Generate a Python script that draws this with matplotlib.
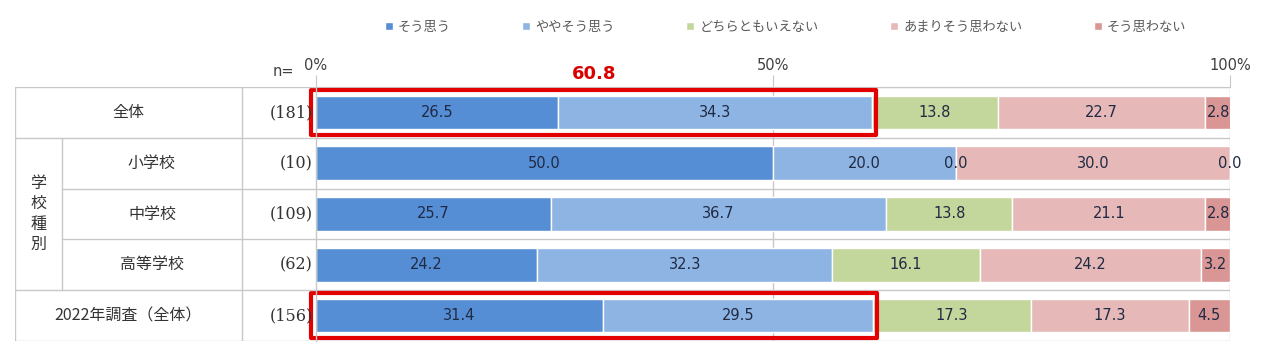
import numpy as np
import matplotlib.pyplot as plt
from matplotlib.patches import Rectangle

plt.rcParams['font.family'] = ['Noto Sans CJK JP', 'DejaVu Sans']

# Survey data (percent), one row per group
groups = ['全体', '小学校', '中学校', '高等学校', '2022年調査（全体）']
n_counts = ['(181)', '(10)', '(109)', '(62)', '(156)']
answers = ['そう思う', 'ややそう思う', 'どちらともいえない', 'あまりそう思わない', 'そう思わない']
sou_omou = [26.5, 50.0, 25.7, 24.2, 31.4]
yaya = [34.3, 20.0, 36.7, 32.3, 29.5]
dochira = [13.8, 0.0, 13.8, 16.1, 17.3]
amari = [22.7, 30.0, 21.1, 24.2, 17.3]
omowanai = [2.8, 0.0, 2.8, 3.2, 4.5]
colors = ['#558ED5', '#8EB4E3', '#C3D69B', '#E6B9B8', '#D99694']
boxed_rows = [0, 4]

W, H = 1265, 347
fig = plt.figure(figsize=(W / 100, H / 100), dpi=100)

x0, x1, ytop, ybot = 316, 1230, 87, 341
ax = fig.add_axes([x0 / W, 1 - ybot / H, (x1 - x0) / W, (ybot - ytop) / H])
tab = fig.add_axes([15 / W, 1 - ybot / H, (x0 - 15) / W, (ybot - ytop) / H])

nrows = len(groups)
ypos = np.arange(nrows)
series = [sou_omou, yaya, dochira, amari, omowanai]
grid_c = '#C8C8C8'

# stacked bars
left = np.zeros(nrows)
handles = []
for vals, col, name in zip(series, colors, answers):
    vals = np.array(vals)
    b = ax.barh(ypos, vals, left=left, height=0.66, color=col,
                edgecolor='white', linewidth=1, label=name, zorder=3)
    handles.append(b)
    for y, v, l in zip(ypos, vals, left):
        ax.text(l + v / 2, y, f'{v:.1f}', ha='center', va='center',
                fontsize=10.5, color='#1f2a44', family='DejaVu Sans', zorder=5)
    left += vals

ax.set_xlim(0, 100)
ax.set_ylim(nrows - 0.5, -0.5)
ax.set_yticks([])
for s in ['left', 'right', 'bottom']:
    ax.spines[s].set_visible(False)
ax.spines['top'].set_color(grid_c)
ax.xaxis.tick_top()
ax.set_xticks([0, 50, 100])
ax.set_xticklabels(['0%', '50%', '100%'], family='DejaVu Sans', fontsize=10.5,
                   color='#404040')
ax.tick_params(axis='x', direction='out', length=9, color=grid_c, pad=1)
for xv in [50, 100]:
    ax.axvline(xv, color=grid_c, lw=1, zorder=1)
for yb in np.arange(nrows + 1) - 0.5:
    ax.axhline(yb, color=grid_c, lw=1, zorder=1)

# red boxes around the agree share
for r in boxed_rows:
    tot = sou_omou[r] + yaya[r]
    ax.add_patch(Rectangle((-0.5, r - 0.45), tot + 1.0, 0.9, fill=False,
                           edgecolor='#E30000', lw=3, zorder=6, clip_on=False,
                           joinstyle='round'))
top_sum = sou_omou[0] + yaya[0]
ax.text(top_sum / 2, -0.75, f'{top_sum:.1f}', ha='center', va='center',
        fontsize=13, fontweight='bold', color='#D90000', family='DejaVu Sans')

# legend
leg = fig.legend(handles=handles, labels=answers, loc='center left',
                 bbox_to_anchor=(373 / W, 1 - 27 / H), ncol=5, frameon=False,
                 handlelength=0.6, handleheight=0.6, handletextpad=0.4,
                 columnspacing=5.4, fontsize=9.5)
for t in leg.get_texts():
    t.set_color('#595959')

# table on the left
tab.set_xlim(0, x0 - 15)
tab.set_ylim(nrows - 0.5, -0.5)
tab.axis('off')
split = 62 - 15
ncol = 242 - 15
for yb in [-0.5, 0.5, 3.5, 4.5]:
    tab.plot([0, x0 - 15], [yb, yb], color=grid_c, lw=1)
for yb in [1.5, 2.5]:
    tab.plot([split, x0 - 15], [yb, yb], color=grid_c, lw=1)
tab.plot([0, 0], [-0.5, 4.5], color=grid_c, lw=1)
tab.plot([split, split], [0.5, 3.5], color=grid_c, lw=1)
tab.plot([ncol, ncol], [-0.5, 4.5], color=grid_c, lw=1)
tab.plot([x0 - 15, x0 - 15], [-0.5, 4.5], color=grid_c, lw=1, clip_on=False)

for i, g in enumerate(groups):
    cx = ncol / 2 if i in (0, 4) else (split + ncol) / 2
    tab.text(cx, i, g, ha='center', va='center', fontsize=11.5, color='#333333')
    tab.text(x0 - 15 - 3, i, n_counts[i], ha='right', va='center',
             fontsize=11.5, color='#333333', family='DejaVu Serif')
tab.text(split / 2, 2, '学\n校\n種\n別', ha='center', va='center',
         fontsize=11.5, color='#333333', linespacing=1.25)
tab.text(ncol + 41, -0.8, 'n=', ha='center', va='center', fontsize=10.5,
         color='#404040', family='DejaVu Sans', clip_on=False)

fig.savefig('out.png', dpi=100)
